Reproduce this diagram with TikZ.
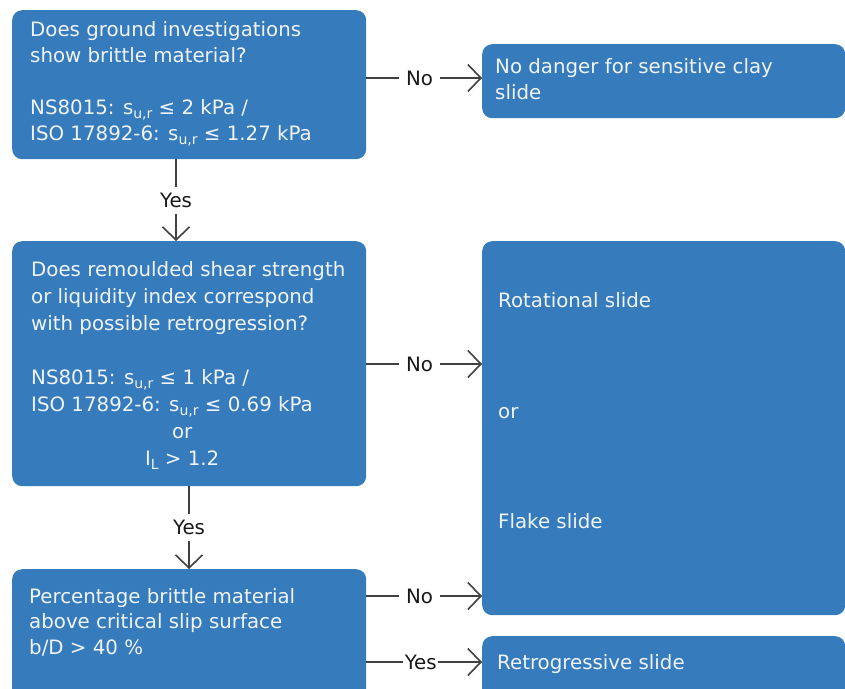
\documentclass[tikz,border=0pt]{standalone}
\usepackage{fontspec}
\setmainfont{DejaVu Sans}
\usetikzlibrary{arrows.meta}
\definecolor{boxblue}{RGB}{54,123,188}
\definecolor{boxtext}{RGB}{240,244,250}
\definecolor{linegray}{RGB}{64,64,64}
\newcommand\sbs[1]{\raisebox{-0.4ex}{\fontsize{14}{14}\selectfont #1}}
\begin{document}
\begin{tikzpicture}[x=1pt,y=-1pt,
  box/.style={fill=boxblue, rounded corners=10pt, inner sep=0pt, anchor=north west, draw=none},
  boxtxt/.style={text=boxtext, anchor=base west, inner sep=0pt, align=left},
  conn/.style={draw=linegray, line width=1.6pt, -{Straight Barb[length=13pt,width=27pt]}},
  lbl/.style={fill=white, text=black!90, inner xsep=7pt, inner ysep=6pt, font=\fontsize{19.8}{24}\selectfont}]
\useasboundingbox (0,0) rectangle (845,688);
\clip (0,0) rectangle (845,688);
% boxes
\node[box, minimum width=354pt, minimum height=149pt] (b1) at (12,10) {};
\node[box, minimum width=363pt, minimum height=74pt]  (b2) at (482,44) {};
\node[box, minimum width=354pt, minimum height=245pt] (b3) at (12,241) {};
\node[box, minimum width=363pt, minimum height=374pt] (b4) at (482,241) {};
\node[box, minimum width=354pt, minimum height=140pt] (b5) at (12,569) {};
\node[box, minimum width=363pt, minimum height=70pt]  (b6) at (482,636) {};
% texts (anchored at the baseline of their last line)
\node[boxtxt, font=\fontsize{19.8}{25.8}\selectfont] (t1) at (30,140)
  {Does ground investigations\\show brittle material?\\[25.8pt]
   NS8015: s\sbs{u,r} ≤ 2 kPa /\\ISO 17892-6: s\sbs{u,r} ≤ 1.27 kPa};
\node[boxtxt, font=\fontsize{19.8}{26}\selectfont] (t2) at (495,99)
  {No danger for sensitive clay\\slide};
\node[boxtxt, font=\fontsize{19.8}{27}\selectfont] (t3) at (31,465)
  {Does remoulded shear strength\\or liquidity index correspond\\with possible retrogression?\\[27pt]
   NS8015: s\sbs{u,r} ≤ 1 kPa /\\ISO 17892-6: s\sbs{u,r} ≤ 0.69 kPa\\
   \makebox[302pt][c]{or}\\\makebox[302pt][c]{I\sbs{L} > 1.2}};
\node[boxtxt, font=\fontsize{19.8}{26}\selectfont] (t4a) at (498,307) {Rotational slide};
\node[boxtxt, font=\fontsize{19.8}{26}\selectfont] (t4b) at (498,418) {or};
\node[boxtxt, font=\fontsize{19.8}{26}\selectfont] (t4c) at (498,528) {Flake slide};
\node[boxtxt, font=\fontsize{19.8}{25.5}\selectfont] (t5) at (29,654)
  {Percentage brittle material\\above critical slip surface\\b/D > 40 \%};
\node[boxtxt, font=\fontsize{19.8}{26}\selectfont] (t6) at (497,669) {Retrogressive slide};
% connectors
\draw[conn] (b1.east |- 0,78) -- node[lbl, pos=0.46] {No} (b2.west |- 0,78);
\draw[conn] (b1.south -| 176,0) -- node[lbl] {Yes} (b3.north -| 176,0);
\draw[conn] (b3.east |- 0,364) -- node[lbl, pos=0.46] {No} (b4.west |- 0,364);
\draw[conn] (b3.south -| 189,0) -- node[lbl] {Yes} (b5.north -| 189,0);
\draw[conn] (b5.east |- 0,596) -- node[lbl, pos=0.46] {No} (b4.west |- 0,596);
\draw[conn] (b5.east |- 0,662) -- node[lbl, pos=0.47, inner xsep=1.5pt] {Yes} (b6.west |- 0,662);
\end{tikzpicture}
\end{document}
